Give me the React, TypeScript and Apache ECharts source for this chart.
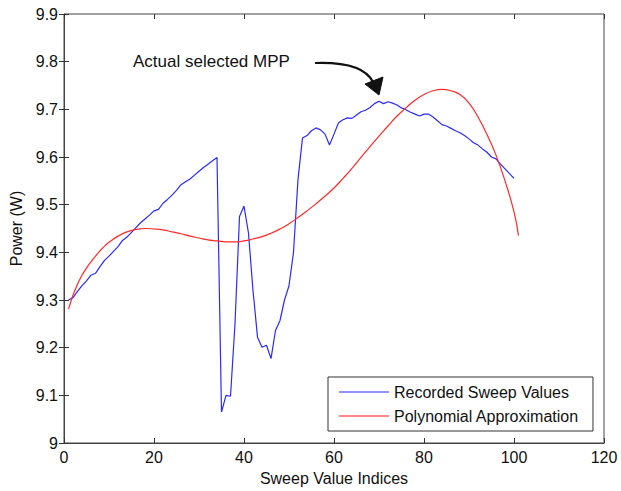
import React, { useEffect, useRef } from "react";
import * as echarts from "echarts";

const blueX = [1,2,3,4,5,6,7,8,9,10,11,12,13,14,15,16,17,18,19,20,21,22,23,24,25,26,27,28,29,30,31,32,33,34,35,36,37,38,39,40,41,42,43,44,45,46,47,48,49,50,51,52,53,54,55,56,57,58,59,60,61,62,63,64,65,66,67,68,69,70,71,72,73,74,75,76,77,78,79,80,81,82,83,84,85,86,87,88,89,90,91,92,93,94,95,96,97,98,99,100];
const blueY = [9.300,9.305,9.318,9.330,9.340,9.352,9.356,9.370,9.383,9.392,9.402,9.412,9.425,9.432,9.442,9.452,9.462,9.470,9.478,9.487,9.490,9.503,9.511,9.520,9.530,9.542,9.548,9.554,9.562,9.570,9.578,9.585,9.592,9.599,9.065,9.100,9.098,9.250,9.475,9.497,9.440,9.320,9.222,9.201,9.205,9.177,9.236,9.257,9.300,9.330,9.400,9.553,9.640,9.645,9.655,9.661,9.657,9.648,9.625,9.648,9.672,9.678,9.682,9.681,9.688,9.695,9.698,9.704,9.712,9.717,9.712,9.716,9.713,9.709,9.703,9.699,9.694,9.690,9.686,9.690,9.690,9.684,9.676,9.668,9.665,9.660,9.655,9.651,9.645,9.638,9.630,9.625,9.617,9.610,9.600,9.596,9.585,9.575,9.565,9.555];

const redX = [1,2,3,4,5,6,7,8,9,10,12,14,16,18,20,22,24,26,28,30,32,34,36,38,40,42,44,46,48,50,52,54,56,58,60,62,64,66,68,70,72,74,76,78,80,82,84,86,88,90,92,94,96,98,100,101];
const redY = [9.281,9.310,9.333,9.352,9.367,9.380,9.392,9.403,9.413,9.421,9.434,9.443,9.448,9.450,9.449,9.447,9.443,9.439,9.434,9.430,9.426,9.424,9.422,9.422,9.424,9.428,9.433,9.440,9.449,9.460,9.473,9.487,9.502,9.518,9.535,9.555,9.576,9.599,9.622,9.644,9.665,9.686,9.703,9.719,9.731,9.739,9.742,9.739,9.731,9.713,9.684,9.647,9.604,9.550,9.485,9.435];

const seriesNames = ["Recorded Sweep Values", "Polynomial Approximation"];
const annotationText = "Actual selected MPP";
const xAxisTitle = "Sweep Value Indices";
const yAxisTitle = "Power (W)";

const FONT = "'Liberation Sans', Arial, Helvetica, sans-serif";

export default function App() {
  const ref = useRef<HTMLDivElement>(null);
  useEffect(() => {
    if (!ref.current) return;
    const chart = echarts.init(ref.current, undefined, { renderer: "svg" });
    const tickCommon = { show: true, inside: true, length: 5, lineStyle: { color: "#333" } };
    chart.setOption({
      animation: false,
      backgroundColor: "#fff",
      textStyle: { fontFamily: FONT },
      grid: { left: 60, right: 17, top: 14, bottom: 47, show: true, borderColor: "#444", borderWidth: 1 },
      legend: {
        orient: "vertical",
        left: 328,
        top: 377,
        padding: [6, 14, 6, 11],
        itemGap: 6,
        itemWidth: 50,
        itemHeight: 1.5,
        icon: "rect",
        borderColor: "#333",
        borderWidth: 1,
        backgroundColor: "#fff",
        textStyle: { fontSize: 16, color: "#111", fontFamily: FONT, lineHeight: 18 },
        data: seriesNames,
      },
      xAxis: [
        {
          type: "value",
          min: 0,
          max: 120,
          interval: 20,
          name: xAxisTitle,
          nameLocation: "middle",
          nameGap: 27,
          nameTextStyle: { fontSize: 16, color: "#111", fontFamily: FONT },
          axisLine: { show: true, lineStyle: { color: "#444" } },
          axisTick: tickCommon,
          axisLabel: { fontSize: 16, color: "#111", margin: 6, fontFamily: FONT },
          splitLine: { show: false },
        },
        {
          type: "value",
          position: "top",
          min: 0,
          max: 120,
          interval: 20,
          axisLine: { show: false },
          axisTick: tickCommon,
          axisLabel: { show: false },
          splitLine: { show: false },
        },
      ],
      yAxis: [
        {
          type: "value",
          min: 9,
          max: 9.9,
          interval: 0.1,
          name: yAxisTitle,
          nameLocation: "middle",
          nameRotate: 90,
          nameGap: 40,
          nameTextStyle: { fontSize: 16, color: "#111", fontFamily: FONT },
          axisLine: { show: true, lineStyle: { color: "#444" } },
          axisTick: tickCommon,
          axisLabel: {
            fontSize: 16,
            color: "#111",
            margin: 6,
            fontFamily: FONT,
            formatter: (v: number) => (Math.abs(v - 9) < 1e-9 ? "9" : v.toFixed(1)),
          },
          splitLine: { show: false },
        },
        {
          type: "value",
          position: "right",
          min: 9,
          max: 9.9,
          interval: 0.1,
          axisLine: { show: false },
          axisTick: tickCommon,
          axisLabel: { show: false },
          splitLine: { show: false },
        },
      ],
      series: [
        {
          name: seriesNames[0],
          type: "line",
          symbol: "none",
          data: blueX.map((x, i) => [x, blueY[i]]),
          lineStyle: { color: "#2a2aff", width: 1.2 },
          itemStyle: { color: "#7070ff" },
        },
        {
          name: seriesNames[1],
          type: "line",
          symbol: "none",
          smooth: true,
          data: redX.map((x, i) => [x, redY[i]]),
          lineStyle: { color: "#ff2a2a", width: 1.2 },
          itemStyle: { color: "#ff6060" },
        },
      ],
      graphic: [
        {
          type: "text",
          left: 133,
          top: 53,
          style: { text: annotationText, fontSize: 17, fill: "#111", fontFamily: FONT },
        },
        {
          type: "bezierCurve",
          shape: { x1: 315, y1: 63, cpx1: 345, cpy1: 62, cpx2: 366, cpy2: 68, x2: 373, y2: 82 },
          style: { stroke: "#111", lineWidth: 2.2, fill: "none" },
        },
        {
          type: "polygon",
          shape: { points: [[365, 84], [383, 77], [379, 95]] },
          style: { fill: "#111", stroke: "#111", lineWidth: 1 },
        },
      ],
    });
    return () => chart.dispose();
  }, []);
  return <div ref={ref} style={{ position: "absolute", left: 0, top: 0, width: 621, height: 491 }} />;
}
